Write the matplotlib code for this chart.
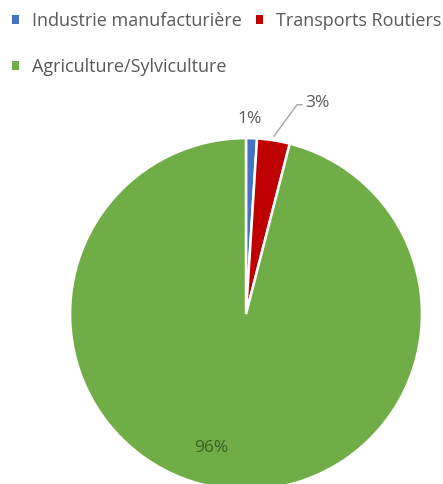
import matplotlib
matplotlib.use("Agg")
import matplotlib.pyplot as plt
from matplotlib.patches import Patch

plt.rcParams['font.family'] = ['Open Sans', 'DejaVu Sans']

categories = ["Industrie manufacturière", "Transports Routiers", "Agriculture/Sylviculture"]
values = [1, 3, 96]
colors = ["#4472C4", "#C00000", "#70AD47"]
label_text = [f"{v}%" for v in values]

fig = plt.figure(figsize=(4.43, 4.84), dpi=100)
ax = fig.add_axes([0.158, -0.0124, 0.7946, 0.727])

wedges, _ = ax.pie(values, colors=colors, startangle=90, counterclock=False,
                   radius=1.0, wedgeprops=dict(edgecolor="white", linewidth=1.8))
ax.set_xlim(-1, 1)
ax.set_ylim(-1, 1)
ax.set_aspect("equal")
ax.axis("off")

txt_gray = "#595959"
# 1% label, above its thin slice
ax.text(0.02, 1.11, label_text[0], ha="center", va="center", fontsize=12.5, color=txt_gray)
# 3% label with a leader line
ax.plot([0.159, 0.29, 0.318], [1.011, 1.19, 1.19], color="#A6A6A6", lw=1.0, clip_on=False)
ax.text(0.335, 1.2, label_text[1], ha="left", va="center", fontsize=12.5, color=txt_gray)
# 96% inside the large slice
ax.text(-0.2, -0.76, label_text[2], ha="center", va="center", fontsize=12.5, color="#3B5E26")

handles = [Patch(facecolor=c, edgecolor="none") for c in colors]
order = [0, 2, 1]
leg = fig.legend([handles[i] for i in order], [categories[i] for i in order],
                 loc="upper left", bbox_to_anchor=(0.0, 1.0), ncol=2, frameon=False,
                 fontsize=13, handlelength=0.4, handleheight=0.4,
                 handletextpad=0.72, columnspacing=0.78, labelspacing=1.55,
                 borderaxespad=0.25)
for t in leg.get_texts():
    t.set_color(txt_gray)

fig.savefig("out.png", dpi=100, facecolor="white")
